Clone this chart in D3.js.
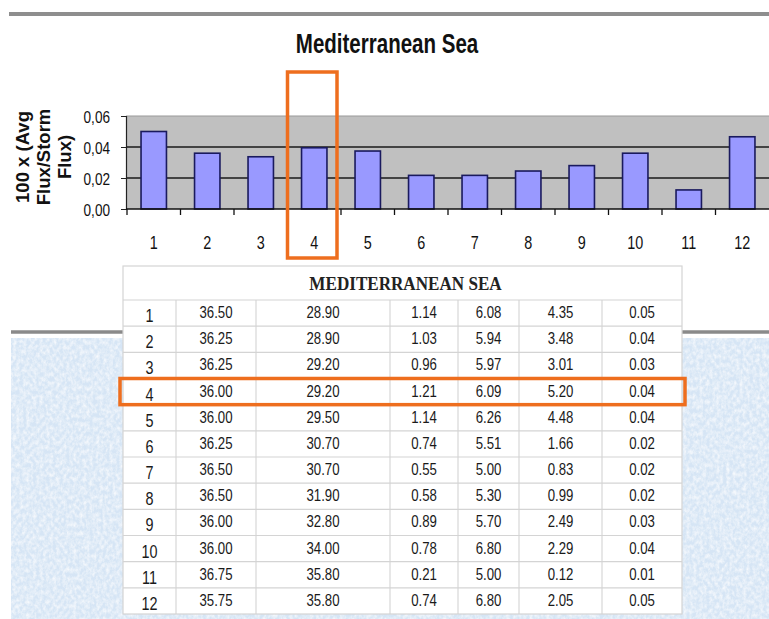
<!DOCTYPE html>
<html><head><meta charset="utf-8">
<script src="https://cdn.jsdelivr.net/npm/d3@7"></script>
<style>
html,body{margin:0;padding:0;background:#fff;}
svg{display:block;}
</style></head>
<body>
<script>
// ---------- data ----------
const chartTitle = "Mediterranean Sea";
const yLabelLines = ["100 x (Avg", "Flux/Storm", "Flux)"];
const categories = ["1","2","3","4","5","6","7","8","9","10","11","12"];
const fluxRatio = [0.0500,0.0360,0.0337,0.0395,0.0374,0.0217,0.0217,0.0245,0.0280,0.0360,0.0123,0.0466];
const yTicks = [0, 0.02, 0.04, 0.06];
const highlighted = "4";

const tableTitle = "MEDITERRANEAN SEA";
const rowIds = ["1","2","3","4","5","6","7","8","9","10","11","12"];
const colA = [36.50,36.25,36.25,36.00,36.00,36.25,36.50,36.50,36.00,36.00,36.75,35.75];
const colB = [28.90,28.90,29.20,29.20,29.50,30.70,30.70,31.90,32.80,34.00,35.80,35.80];
const colC = [1.14,1.03,0.96,1.21,1.14,0.74,0.55,0.58,0.89,0.78,0.21,0.74];
const colD = [6.08,5.94,5.97,6.09,6.26,5.51,5.00,5.30,5.70,6.80,5.00,6.80];
const colE = [4.35,3.48,3.01,5.20,4.48,1.66,0.83,0.99,2.49,2.29,0.12,2.05];
const colF = [0.05,0.04,0.03,0.04,0.04,0.02,0.02,0.02,0.03,0.04,0.01,0.05];

// ---------- setup ----------
const W = 769, H = 619;
const SANS = "'Liberation Sans',Arial,sans-serif";
const SQ = 0.8; // horizontal squeeze to mimic a narrow face
const ORANGE = "#ee6e1e";
const svg = d3.select("body").append("svg").attr("width", W).attr("height", H);

// helper: narrow text drawn at (x,y)
function narrow(sel, x, y, sq){
  return sel.attr("x",0).attr("y",0)
    .attr("transform", (d,i)=>`translate(${typeof x==="function"?x(d,i):x},${typeof y==="function"?y(d,i):y}) scale(${sq||SQ},1)`);
}

const defs = svg.append("defs");
const f = defs.append("filter").attr("id","tex")
  .attr("x",0).attr("y",0).attr("width",1).attr("height",1)
  .attr("filterUnits","objectBoundingBox");
f.append("feTurbulence").attr("type","fractalNoise").attr("baseFrequency","0.3 0.22")
  .attr("numOctaves",3).attr("seed",11).attr("result","noise");
f.append("feColorMatrix").attr("in","noise").attr("type","matrix")
  .attr("values","0 0 0 0 1  0 0 0 0 1  0 0 0 0 1  1.3 0 0 0 -0.42").attr("result","white");
f.append("feComposite").attr("in","white").attr("in2","SourceGraphic").attr("operator","in").attr("result","w2");
f.append("feMerge").call(m=>{m.append("feMergeNode").attr("in","SourceGraphic");m.append("feMergeNode").attr("in","w2");});

// top rule
svg.append("line").attr("x1",9).attr("x2",W).attr("y1",14).attr("y2",14)
  .attr("stroke","#8e8e8e").attr("stroke-width",4);

// lower rule + textured background
svg.append("line").attr("x1",11).attr("x2",W).attr("y1",332).attr("y2",332)
  .attr("stroke","#8a8a8a").attr("stroke-width",3.5);
svg.append("rect").attr("x",11).attr("y",338).attr("width",W-11).attr("height",H-338)
  .attr("fill","#d6e5f5").attr("filter","url(#tex)");

// title
svg.append("text").call(narrow, 387, 53, 0.76).attr("text-anchor","middle")
  .attr("font-family",SANS).attr("font-weight","bold").attr("font-size",27)
  .attr("fill","#111").text(chartTitle);

// ---------- chart ----------
const plotL = 126, plotR = W, plotT = 116, plotB = 209;
const xb = d3.scaleBand().domain(categories).range([127, 769]);
const barW = xb.bandwidth() * 0.475;
const y = d3.scaleLinear().domain([0, 0.06]).range([plotB, plotT]);

svg.append("rect").attr("x",plotL).attr("y",plotT).attr("width",plotR-plotL).attr("height",plotB-plotT)
  .attr("fill","#c0c0c0");

svg.append("g").selectAll("line").data(yTicks.filter(d=>d>0)).join("line")
  .attr("x1",plotL).attr("x2",plotR).attr("y1",d=>y(d)).attr("y2",d=>y(d))
  .attr("stroke",d=>d===0.06?"#9a9a9a":"#1a1a1a").attr("stroke-width",d=>d===0.06?1.2:1.6);

svg.append("g").selectAll("rect").data(categories).join("rect")
  .attr("x",(d)=>xb(d)+(xb.bandwidth()-barW)/2)
  .attr("y",(d,i)=>y(fluxRatio[i]))
  .attr("width",barW)
  .attr("height",(d,i)=>plotB-y(fluxRatio[i]))
  .attr("fill","#9999ff").attr("stroke","#1a1a5e").attr("stroke-width",1.6);

// y axis
const yAxis = svg.append("g").attr("transform",`translate(${plotL},0)`)
  .call(d3.axisLeft(y).tickValues(yTicks).tickSize(5).tickPadding(11)
    .tickFormat(d=>d3.format(".2f")(d).replace(".", ",")));
yAxis.select(".domain").attr("stroke","#222").attr("stroke-width",1.2);
yAxis.selectAll(".tick line").attr("stroke","#222");
yAxis.selectAll("text").attr("x",0).attr("dy",null)
  .attr("transform","translate(-16,6) scale(0.8,1)")
  .attr("font-family",SANS).attr("font-size",17).attr("fill","#111");

// x axis: labels at band centres, ticks at band boundaries
const xAxis = svg.append("g").attr("transform",`translate(0,${plotB})`)
  .call(d3.axisBottom(xb).tickSize(0).tickPadding(26));
xAxis.select(".domain").remove();
xAxis.selectAll("text").attr("y",0).attr("dy",null)
  .attr("transform","translate(0,40) scale(0.8,1)")
  .attr("font-family",SANS).attr("font-size",18).attr("fill","#111");
svg.append("line").attr("x1",plotL).attr("x2",plotR).attr("y1",plotB).attr("y2",plotB)
  .attr("stroke","#111").attr("stroke-width",1.6);
svg.append("g").selectAll("line").data(categories).join("line")
  .attr("x1",d=>xb(d)).attr("x2",d=>xb(d)).attr("y1",plotB).attr("y2",plotB+6)
  .attr("stroke","#111").attr("stroke-width",1.3);

// y label
const yl = svg.append("text").attr("transform","translate(0,157) rotate(-90)")
  .attr("text-anchor","middle").attr("font-family",SANS)
  .attr("font-weight","bold").attr("font-size",18.5).attr("fill","#111");
yLabelLines.forEach((t,i)=>yl.append("tspan").attr("x",0).attr("y",29+i*21).text(t));

// highlight column box
svg.append("rect").attr("x",xb(highlighted)).attr("y",72)
  .attr("width",xb.bandwidth()-4).attr("height",258-72)
  .attr("fill","none").attr("stroke",ORANGE).attr("stroke-width",3.5);

// ---------- table ----------
const colEdges = [123,176,256,390,458,519,602,682];
const cols = [rowIds, colA, colB, colC, colD, colE, colF];
const tTop = 266, tHeadB = 300, tBot = 614;
const ty = d3.scaleBand().domain(rowIds).range([tHeadB, tBot]);
const tbl = svg.append("g");
tbl.append("rect").attr("x",colEdges[0]).attr("y",tTop).attr("width",colEdges[7]-colEdges[0])
  .attr("height",tBot-tTop).attr("fill","#fff").attr("stroke","#d4d4d4").attr("stroke-width",1.2);
tbl.selectAll("line.h").data(rowIds).join("line").attr("class","h")
  .attr("x1",colEdges[0]).attr("x2",colEdges[7]).attr("y1",d=>ty(d)).attr("y2",d=>ty(d))
  .attr("stroke","#d4d4d4").attr("stroke-width",1.1);
tbl.selectAll("line.v").data(colEdges.slice(1,7)).join("line").attr("class","v")
  .attr("x1",d=>d).attr("x2",d=>d).attr("y1",tHeadB).attr("y2",tBot)
  .attr("stroke","#d4d4d4").attr("stroke-width",1.1);
tbl.append("text").call(narrow,(colEdges[0]+colEdges[7])/2 + 3,(tTop+tHeadB)/2+7,0.9)
  .attr("text-anchor","middle").attr("font-family","'Liberation Serif','Times New Roman',serif")
  .attr("font-weight","bold").attr("font-size",19)
  .attr("fill","#222").text(tableTitle);
cols.forEach((col,ci)=>{
  const cx = (colEdges[ci]+colEdges[ci+1])/2;
  tbl.append("g").selectAll("text").data(col).join("text")
    .call(narrow, cx, (d,i)=>ty(rowIds[i])+ty.bandwidth()/2 + (ci===0?9:5), 0.8)
    .attr("text-anchor","middle").attr("font-family",SANS)
    .attr("font-size",ci===0?18:16.5).attr("fill","#1a1a1a")
    .text(d=>ci===0?d:d3.format(".2f")(d));
});

// highlight row box
svg.append("rect").attr("x",120).attr("y",ty(highlighted))
  .attr("width",685-120).attr("height",ty.bandwidth())
  .attr("fill","none").attr("stroke",ORANGE).attr("stroke-width",3.5);
</script>
</body></html>
